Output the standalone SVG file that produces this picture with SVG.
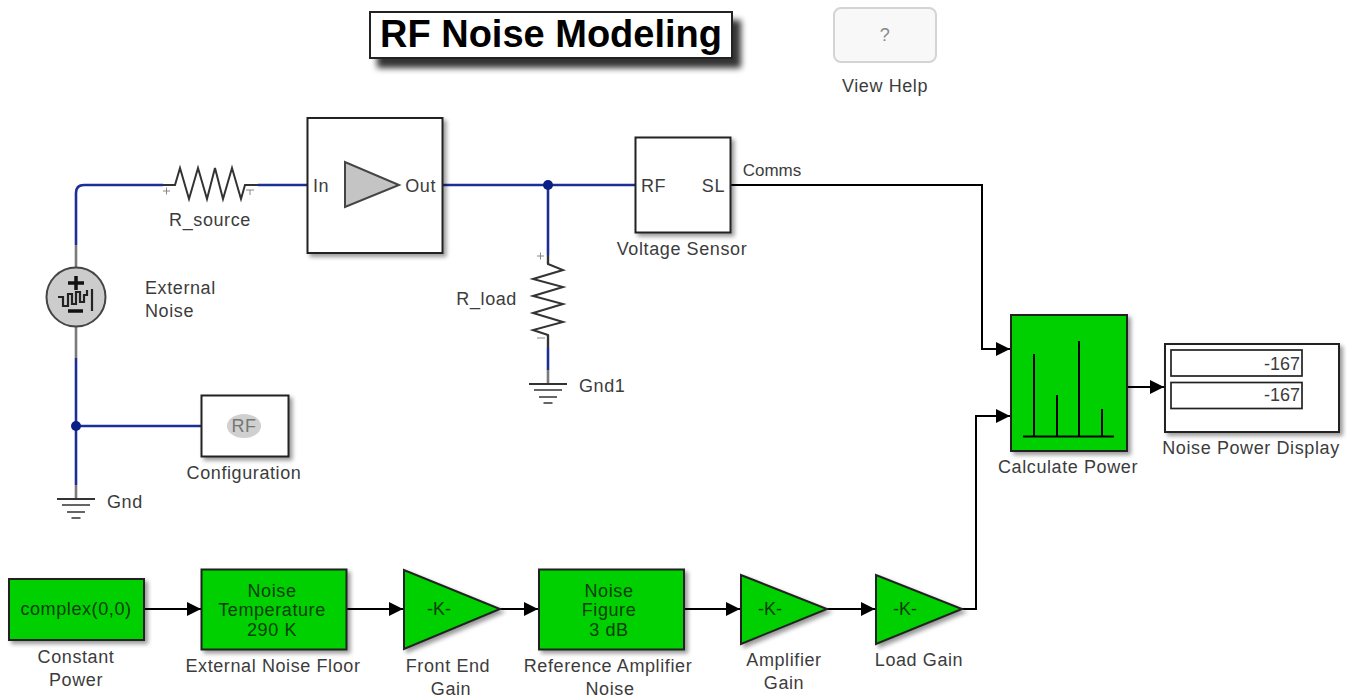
<svg xmlns="http://www.w3.org/2000/svg" width="1347" height="698" viewBox="0 0 1347 698">
<style>
text{font-family:"Liberation Sans",Arial,sans-serif;font-size:18px;letter-spacing:.6px;fill:#3c3c3c;text-anchor:middle}
.l{text-anchor:start}
.e{text-anchor:end}
.d{fill:#0a3d0a}
.n{letter-spacing:0}
.b{fill:#fff;stroke:#222;stroke-width:2;filter:url(#s)}
.g{fill:#00d000;stroke:#222;stroke-width:2;filter:url(#s)}
.w{fill:none;stroke:#000;stroke-width:2}
.rf{fill:none;stroke:#1c2f94;stroke-width:2.6}
.st{fill:none;stroke:#7a7a7a;stroke-width:2.6}
.sym{fill:none;stroke:#333;stroke-width:2;stroke-linejoin:miter}
.gn{fill:none;stroke:#666;stroke-width:2}
.gt{fill:none;stroke:#333;stroke-width:2}
</style>
<defs>
<filter id="s" x="-10%" y="-10%" width="125%" height="125%"><feDropShadow dx="3" dy="3" stdDeviation="2" flood-color="#000" flood-opacity=".4"/></filter>
<filter id="s2" x="-5%" y="-20%" width="112%" height="170%"><feDropShadow dx="8" dy="9" stdDeviation="3" flood-color="#000" flood-opacity=".8"/></filter>
<marker id="a" markerUnits="userSpaceOnUse" markerWidth="15" markerHeight="14" refX="14" refY="7" orient="auto"><path d="M0 0L14 7L0 14z" fill="#000"/></marker>
<g id="ground"><path class="gt" d="M-19 0H19"/><path class="gn" d="M-14 6H14M-9 13H9M-4.500 19H4.500"/></g>
</defs>

<g id="connectors">
<path class="rf" d="M163 185H84Q76 185 76 193V245"/>
<path class="st" d="M76 245V268M76 325V358"/>
<path class="rf" d="M76 358V485"/>
<path class="st" d="M76 485V499"/>
<path class="rf" d="M76 426H201"/>
<path class="rf" d="M258 185H307"/>
<path class="rf" d="M442 185H635"/>
<path class="rf" d="M548 185V255"/>
<path class="st" d="M548 255V264M548 335V348"/>
<path class="rf" d="M548 348V370"/>
<path class="st" d="M548 370V384"/>
<circle cx="548" cy="185" r="5" fill="#0a1f86"/>
<circle cx="76" cy="426" r="5" fill="#0a1f86"/>
<path class="w" d="M731 185H982V349H1010" marker-end="url(#a)"/>
<path class="w" d="M962 609H976V416H1010" marker-end="url(#a)"/>
<path class="w" d="M1127 387H1164" marker-end="url(#a)"/>
<path class="w" d="M144 609H201" marker-end="url(#a)"/>
<path class="w" d="M347 609H403" marker-end="url(#a)"/>
<path class="w" d="M500 609H538" marker-end="url(#a)"/>
<path class="w" d="M684 609H740" marker-end="url(#a)"/>
<path class="w" d="M827 609H875" marker-end="url(#a)"/>
<text class="n" x="772" y="176" style="font-size:17px">Comms</text>
</g>

<g id="title">
<rect x="370" y="12" width="362" height="46" fill="#fff" stroke="#222" stroke-width="2" filter="url(#s2)"/>
<text class="n" x="551" y="47" style="font-size:38px;font-weight:bold;fill:#000">RF Noise Modeling</text>
</g>

<g id="help">
<rect x="834" y="8" width="102" height="54" rx="7" fill="#f8f8f8" stroke="#d4d4d4" stroke-width="2"/>
<text x="885" y="41" style="fill:#888">?</text>
<text x="885" y="92">View Help</text>
</g>

<g id="r-source">
<path class="sym" d="M163 185H175L180 168L189 199L198 168L207 199L215 168L223 199L232 168L241 199L245 185H258"/>
<path d="M163 191H170M166.500 187.500V194.500M246 190H254M250 190V195" fill="none" stroke="#888" stroke-width="1"/>
<text x="210" y="226">R_source</text>
</g>

<g id="external-noise">
<circle cx="76" cy="297" r="29.500" fill="#ccc" stroke="#444" stroke-width="2"/>
<path d="M68 283H84M76 276V290M68 311H83" stroke="#111" stroke-width="3.500" fill="none"/>
<path d="M58 297H63V306H68V294H72V304H76V292H80V302H84V295H87V290M92 289V311" stroke="#222" stroke-width="2.200" fill="none"/>
<text class="l" x="145" y="294">External</text>
<text class="l" x="145" y="317">Noise</text>
</g>

<g id="amplifier">
<rect class="b" x="307.500" y="118" width="135" height="135"/>
<path d="M345 162V207L399 185z" fill="#c4c4c4" stroke="#444" stroke-width="2"/>
<text class="l" x="313" y="192">In</text>
<text class="e" x="436" y="192">Out</text>
</g>

<g id="voltage-sensor">
<rect class="b" x="635.500" y="137.500" width="95" height="95"/>
<text class="l" x="641" y="192">RF</text>
<text class="e" x="725" y="192">SL</text>
<text x="682" y="255">Voltage Sensor</text>
</g>

<g id="r-load">
<path class="sym" d="M548 255V264L563 270L533 279L563 287L533 296L563 304L533 313L563 322L533 330L548 335V348"/>
<path d="M537 256H544M540.500 252.500V259.500M537 338H545" fill="none" stroke="#888" stroke-width="1"/>
<text class="e" x="517" y="305">R_load</text>
</g>

<g id="gnd1">
<use href="#ground" x="548" y="384"/>
<text class="l" x="579" y="392">Gnd1</text>
</g>

<g id="gnd">
<use href="#ground" x="76" y="499"/>
<text class="l" x="107" y="508">Gnd</text>
</g>

<g id="configuration">
<rect class="b" x="201.500" y="395.500" width="87" height="61"/>
<ellipse cx="244" cy="426" rx="17" ry="12" fill="#d0d0d0"/>
<text x="244" y="432" style="fill:#777">RF</text>
<text x="244" y="479">Configuration</text>
</g>

<g id="calculate-power">
<rect class="g" x="1011" y="315" width="116" height="136"/>
<path d="M1034 436V354M1057 436V395M1079 436V341M1102 436V409M1023 436.500H1114" stroke="#000" stroke-width="2" fill="none"/>
<text x="1068" y="473">Calculate Power</text>
</g>

<g id="noise-power-display">
<rect class="b" x="1165" y="344" width="174" height="88"/>
<rect x="1171" y="350" width="131" height="26" fill="#fff" stroke="#222" stroke-width="1.700"/>
<rect x="1171" y="382.500" width="131" height="26" fill="#fff" stroke="#222" stroke-width="1.700"/>
<text class="e n" x="1300" y="370">-167</text>
<text class="e n" x="1300" y="401">-167</text>
<text x="1251" y="454">Noise Power Display</text>
</g>

<g id="constant-power">
<rect class="g" x="9" y="579" width="135" height="61"/>
<text class="d" x="76" y="615">complex(0,0)</text>
<text x="76" y="663">Constant</text>
<text x="76" y="686">Power</text>
</g>

<g id="external-noise-floor">
<rect class="g" x="201.500" y="569.500" width="145" height="80"/>
<text class="d" x="272" y="597">Noise</text>
<text class="d" x="272" y="616">Temperature</text>
<text class="d" x="272" y="636">290 K</text>
<text x="273" y="672">External Noise Floor</text>
</g>

<g id="front-end-gain">
<path class="g" d="M404 570V649L500 609z"/>
<text class="d n" x="439" y="615">-K-</text>
<text x="448" y="672">Front End</text>
<text x="451" y="695">Gain</text>
</g>

<g id="reference-amplifier-noise">
<rect class="g" x="539" y="569.500" width="145" height="80"/>
<text class="d" x="609" y="597">Noise</text>
<text class="d" x="609" y="616">Figure</text>
<text class="d" x="609" y="636">3 dB</text>
<text x="608" y="672">Reference Amplifier</text>
<text x="610" y="695">Noise</text>
</g>

<g id="amplifier-gain">
<path class="g" d="M741 575V644L827 609z"/>
<text class="d n" x="770" y="615">-K-</text>
<text x="784" y="666">Amplifier</text>
<text x="784" y="689">Gain</text>
</g>

<g id="load-gain">
<path class="g" d="M876 575V644L962 609z"/>
<text class="d n" x="905" y="615">-K-</text>
<text x="919" y="666">Load Gain</text>
</g>
</svg>
